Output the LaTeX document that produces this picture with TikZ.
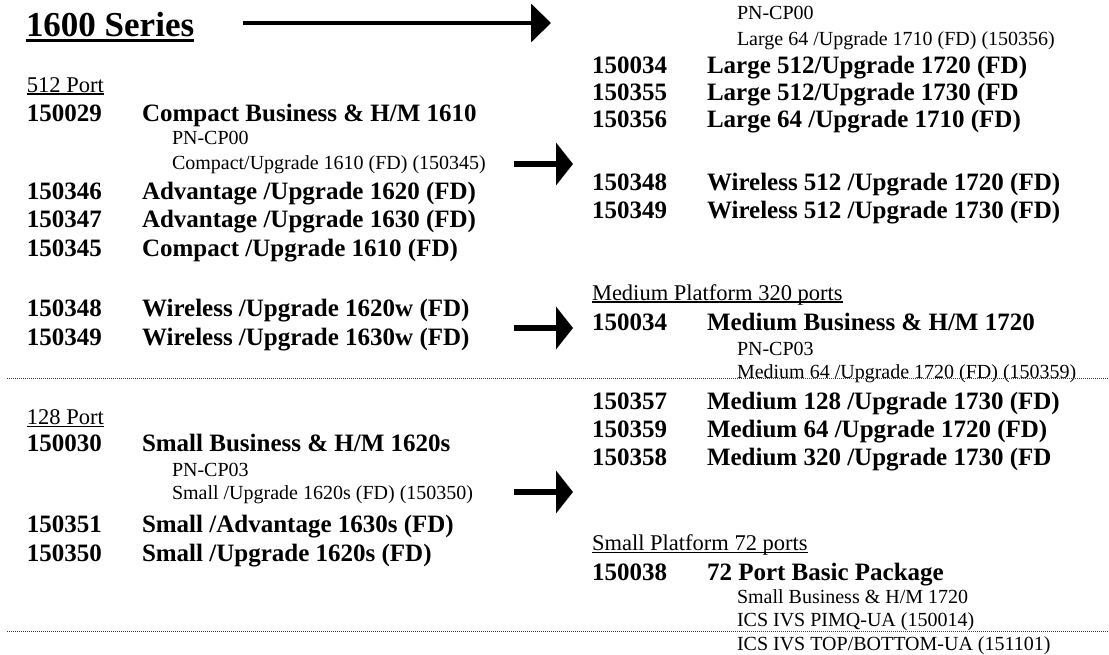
\documentclass[tikz,border=0pt]{standalone}
\usepackage{fontspec}
\setmainfont{Liberation Serif}
\usetikzlibrary{arrows.meta}
\tikzset{
  txt/.style={anchor=base west, inner sep=0pt, outer sep=0pt},
  boldrow/.style={txt, font=\fontsize{25}{30}\selectfont\bfseries},
  subrow/.style={txt, font=\fontsize{20}{24}\selectfont},
  headrow/.style={txt, font=\fontsize{22.5}{27}\selectfont},
  titlerow/.style={txt, font=\fontsize{35}{42}\selectfont\bfseries},
  sepline/.style={black!75, line width=0.8pt, dash pattern=on 1pt off 1pt},
  bigarrow/.style={line width=5.5pt, -{Triangle[width=42pt,length=17pt]}},
  toparrow/.style={line width=4pt, -{Triangle[width=38pt,length=20pt]}},
  uline/.style={line width=1.8pt},
}
\begin{document}
\begin{tikzpicture}[x=1pt,y=-1pt]
\useasboundingbox[fill=white] (0,0) rectangle (1109,655);

% ---------- left column ----------
\node[titlerow] (title) at (26,37) {1600 Series};
\draw[line width=3pt] ([yshift=-4pt]title.base west) -- ([yshift=-4pt]title.base east);

\node[headrow] (p512) at (27,92.4) {512 Port};
\draw[uline] ([yshift=-2pt]p512.base west) -- ([yshift=-2pt]p512.base east);

\node[boldrow] (c1) at (27,121.3) {150029};
\node[boldrow] (d1) at (142,121.3) {Compact Business \& H/M 1610};
\node[subrow] (s1a) at (172,144.6) {PN-CP00};
\node[subrow] (s1b) at (172,169.6) {Compact/Upgrade 1610 (FD) (150345)};
\node[boldrow] (c2) at (27,199.3) {150346};
\node[boldrow] (d2) at (142,199.3) {Advantage /Upgrade 1620 (FD)};
\node[boldrow] (c3) at (27,227.3) {150347};
\node[boldrow] (d3) at (142,227.3) {Advantage /Upgrade 1630 (FD)};
\node[boldrow] (c4) at (27,256.3) {150345};
\node[boldrow] (d4) at (142,256.3) {Compact /Upgrade 1610 (FD)};
\node[boldrow] (c5) at (27,316.5) {150348};
\node[boldrow] (d5) at (142,316.5) {Wireless /Upgrade 1620w (FD)};
\node[boldrow] (c6) at (27,345.5) {150349};
\node[boldrow] (d6) at (142,345.5) {Wireless /Upgrade 1630w (FD)};

\node[headrow] (p128) at (27,424.5) {128 Port};
\draw[uline] ([yshift=-2pt]p128.base west) -- ([yshift=-2pt]p128.base east);

\node[boldrow] (c7) at (27,451.5) {150030};
\node[boldrow] (d7) at (142,451.5) {Small Business \& H/M 1620s};
\node[subrow] (s7a) at (172,476.5) {PN-CP03};
\node[subrow] (s7b) at (172,499.5) {Small /Upgrade 1620s (FD) (150350)};
\node[boldrow] (c8) at (27,532.5) {150351};
\node[boldrow] (d8) at (142,532.5) {Small /Advantage 1630s (FD)};
\node[boldrow] (c9) at (27,561.5) {150350};
\node[boldrow] (d9) at (142,561.5) {Small /Upgrade 1620s (FD)};

% ---------- right column ----------
\node[subrow] (r0a) at (737,19.6) {PN-CP00};
\node[subrow] (r0b) at (737,45.6) {Large 64 /Upgrade 1710 (FD) (150356)};
\node[boldrow] (rc1) at (592,73.3) {150034};
\node[boldrow] (rd1) at (707,73.3) {Large 512/Upgrade 1720 (FD)};
\node[boldrow] (rc2) at (592,100.3) {150355};
\node[boldrow] (rd2) at (707,100.3) {Large 512/Upgrade 1730 (FD};
\node[boldrow] (rc3) at (592,127.3) {150356};
\node[boldrow] (rd3) at (707,127.3) {Large 64 /Upgrade 1710 (FD)};
\node[boldrow] (rc4) at (592,190.3) {150348};
\node[boldrow] (rd4) at (707,190.3) {Wireless 512 /Upgrade 1720 (FD)};
\node[boldrow] (rc5) at (592,218.3) {150349};
\node[boldrow] (rd5) at (707,218.3) {Wireless 512 /Upgrade 1730 (FD)};

\node[headrow] (pmed) at (592,300.4) {Medium Platform 320 ports};
\draw[uline] ([yshift=-2pt]pmed.base west) -- ([yshift=-2pt]pmed.base east);
\node[boldrow] (rc6) at (592,330.3) {150034};
\node[boldrow] (rd6) at (707,330.3) {Medium Business \& H/M 1720};
\node[subrow] (r6a) at (737,355.6) {PN-CP03};
\node[subrow] (r6b) at (737,378.6) {Medium 64 /Upgrade 1720 (FD) (150359)};
\node[boldrow] (rc7) at (592,409.3) {150357};
\node[boldrow] (rd7) at (707,409.3) {Medium 128 /Upgrade 1730 (FD)};
\node[boldrow] (rc8) at (592,437.3) {150359};
\node[boldrow] (rd8) at (707,437.3) {Medium 64 /Upgrade 1720 (FD)};
\node[boldrow] (rc9) at (592,465.3) {150358};
\node[boldrow] (rd9) at (707,465.3) {Medium 320 /Upgrade 1730 (FD};

\node[headrow] (psmall) at (592,550.4) {Small Platform 72 ports};
\draw[uline] ([yshift=-2pt]psmall.base west) -- ([yshift=-2pt]psmall.base east);
\node[boldrow] (rc10) at (592,580.3) {150038};
\node[boldrow] (rd10) at (707,580.3) {72 Port Basic Package};
\node[subrow] (r10a) at (737,603.6) {Small Business \& H/M 1720};
\node[subrow] (r10b) at (737,626.6) {ICS IVS PIMQ-UA (150014)};
\node[subrow] (r10c) at (737,650.6) {ICS IVS TOP/BOTTOM-UA (151101)};

% ---------- separators ----------
\coordinate (m1) at (7,378);
\coordinate (m2) at (1109,378);
\coordinate (b1) at (7,631);
\coordinate (b2) at (1109,631);
\draw[sepline] (m1) -- (m2);
\draw[sepline] (b1) -- (b2);

% ---------- arrows ----------
\coordinate (t1) at (243,23);
\coordinate (t2) at (551,23);
\draw[toparrow] (t1) -- (t2);
\coordinate (a1s) at (514,164);
\coordinate (a1e) at (573,164);
\draw[bigarrow] (a1s) -- (a1e);
\coordinate (a2s) at (514,328);
\coordinate (a2e) at (573,328);
\draw[bigarrow] (a2s) -- (a2e);
\coordinate (a3s) at (514,492);
\coordinate (a3e) at (573,492);
\draw[bigarrow] (a3s) -- (a3e);
\end{tikzpicture}
\end{document}
